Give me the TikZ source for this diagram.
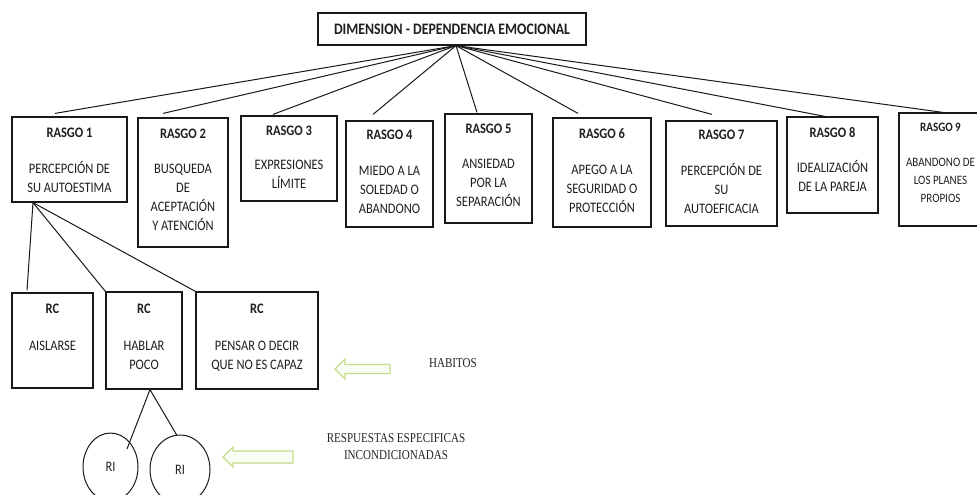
\documentclass[tikz,border=0pt]{standalone}
\usepackage{fontspec}
\setmainfont{Carlito}[FakeStretch=0.86]
\newfontfamily\timesfont{Liberation Serif}[FakeStretch=0.82]
\usetikzlibrary{shapes.geometric}
\definecolor{linec}{RGB}{25,25,25}
\definecolor{arrowg}{RGB}{195,222,140}
\definecolor{arrowfill}{RGB}{250,253,243}
\tikzset{
  box/.style={draw=linec, line width=1.2pt, rectangle, inner sep=0pt},
  boxtext/.style={align=center, inner sep=0pt, anchor=north, text=black!88,
    font=\fontsize{14.5}{19}\selectfont},
  smalltext/.style={boxtext, font=\fontsize{12.8}{18}\selectfont},
  conn/.style={draw=linec, line width=1pt},
  ri/.style={draw=linec, line width=1pt, ellipse, inner sep=0pt, text=black!85,
    font=\fontsize{14.5}{15}\selectfont},
  greenarrow/.style={draw=arrowg, line width=1.3pt, fill=arrowfill, line join=miter},
  serifnote/.style={align=center, inner sep=0pt, text=black!85,
    font=\timesfont\fontsize{13.5}{17}\selectfont},
}
\begin{document}
\begin{tikzpicture}[x=1pt, y=-1pt]
\useasboundingbox (0,0) rectangle (977,495);
\fill[white] (0,0) rectangle (977,495);

% title
\node[box, minimum width=268pt, minimum height=32pt, text=black!88,
  font=\bfseries\fontsize{16}{18}\selectfont] (dim) at (452,29) {DIMENSION - DEPENDENCIA EMOCIONAL};

% rasgo boxes
\node[box, minimum width=115pt, minimum height=85pt]  (r1) at (69.5,159.5) {};
\node[box, minimum width=90pt,  minimum height=129pt] (r2) at (183,182.5) {};
\node[box, minimum width=96pt,  minimum height=85pt]  (r3) at (289,158.5) {};
\node[box, minimum width=87pt,  minimum height=106pt] (r4) at (389.5,174) {};
\node[box, minimum width=87pt,  minimum height=109pt] (r5) at (488.5,168.5) {};
\node[box, minimum width=98pt,  minimum height=109pt] (r6) at (602,172.5) {};
\node[box, minimum width=111pt, minimum height=105pt] (r7) at (721.5,173.5) {};
\node[box, minimum width=91pt,  minimum height=96pt]  (r8) at (832.5,165) {};
\node[box, minimum width=83pt,  minimum height=113pt] (r9) at (940.5,169.5) {};

\node[boxtext] (r1t) at ([yshift=-11pt]r1.north) {\textbf{RASGO 1}\\[17pt]PERCEPCIÓN DE\\SU AUTOESTIMA};
\node[boxtext] (r2t) at ([yshift=-11pt]r2.north) {\textbf{RASGO 2}\\[16pt]BUSQUEDA\\DE\\ACEPTACIÓN\\Y ATENCIÓN};
\node[boxtext] (r3t) at ([yshift=-10pt]r3.north) {\textbf{RASGO 3}\\[15pt]EXPRESIONES\\LÍMITE};
\node[boxtext] (r4t) at ([yshift=-9pt]r4.north) {\textbf{RASGO 4}\\[17pt]MIEDO A LA\\SOLEDAD O\\ABANDONO};
\node[boxtext] (r5t) at ([yshift=-10pt]r5.north) {\textbf{RASGO 5}\\[16pt]ANSIEDAD\\POR LA\\SEPARACIÓN};
\node[boxtext] (r6t) at ([yshift=-11pt]r6.north) {\textbf{RASGO 6}\\[17pt]APEGO A LA\\SEGURIDAD O\\PROTECCIÓN};
\node[boxtext] (r7t) at ([yshift=-9pt]r7.north) {\textbf{RASGO 7}\\[17pt]PERCEPCIÓN DE\\SU\\AUTOEFICACIA};
\node[boxtext] (r8t) at ([yshift=-11pt]r8.north) {\textbf{RASGO 8}\\[16pt]IDEALIZACIÓN\\DE LA PAREJA};
\node[smalltext] (r9t) at ([yshift=-11pt]r9.north) {\textbf{RASGO 9}\\[17pt]ABANDONO DE\\LOS PLANES\\PROPIOS};

% connectors from title
\foreach \n/\dx/\gap in {r1/-14.5/3, r2/-20/4, r3/-16/1, r4/-16.5/6, r5/-11.5/1,
                         r6/-24/4, r7/-9.5/6, r8/-7.5/0, r9/2.5/0}
  \draw[conn] ([xshift=4pt]dim.south) -- ([xshift=\dx pt, yshift=\gap pt]\n.north);

% RC boxes
\node[box, minimum width=81pt,  minimum height=95pt] (rc1) at (52.5,340.5) {};
\node[box, minimum width=76pt,  minimum height=97pt] (rc2) at (144,340.5) {};
\node[box, minimum width=122pt, minimum height=97pt] (rc3) at (257,340.5) {};
\node[boxtext] (rc1t) at ([yshift=-11pt]rc1.north) {\textbf{RC}\\[18pt]AISLARSE};
\node[boxtext] (rc2t) at ([yshift=-12pt]rc2.north) {\textbf{RC}\\[18pt]HABLAR\\POCO};
\node[boxtext] (rc3t) at ([yshift=-12pt]rc3.north) {\textbf{RC}\\[18pt]PENSAR O DECIR\\QUE NO ES CAPAZ};

\draw[conn] ([xshift=-36.5pt]r1.south) -- ([xshift=-25.5pt,yshift=2pt]rc1.north);
\draw[conn] ([xshift=-36.5pt]r1.south) -- (rc2.north west);
\draw[conn] ([xshift=-36.5pt]r1.south) -- (rc3.north west);

% RI ellipses
\node[ri, minimum width=55pt, minimum height=68pt] (ri1) at (110.5,467) {RI};
\node[ri, minimum width=60pt, minimum height=69pt] (ri2) at (180,469.5) {RI};
\draw[conn] ([xshift=6pt]rc2.south) -- ([xshift=16.5pt,yshift=18pt]ri1.center);
\draw[conn] ([xshift=6pt]rc2.south) -- ([xshift=-3pt,yshift=-1pt]ri2.north);

% green hollow arrows
\draw[greenarrow] (335,369) -- (345,359) -- (345,364.5) -- (390,364.5) -- (390,373.5)
  -- (345,373.5) -- (345,379) -- cycle;
\draw[greenarrow] (223,457) -- (233,447) -- (233,451) -- (293,451) -- (293,463)
  -- (233,463) -- (233,467) -- cycle;

% notes
\node[serifnote] (hab) at (453,363) {HABITOS};
\node[serifnote] (resp) at (396,447) {RESPUESTAS ESPECIFICAS\\INCONDICIONADAS};
\end{tikzpicture}
\end{document}
